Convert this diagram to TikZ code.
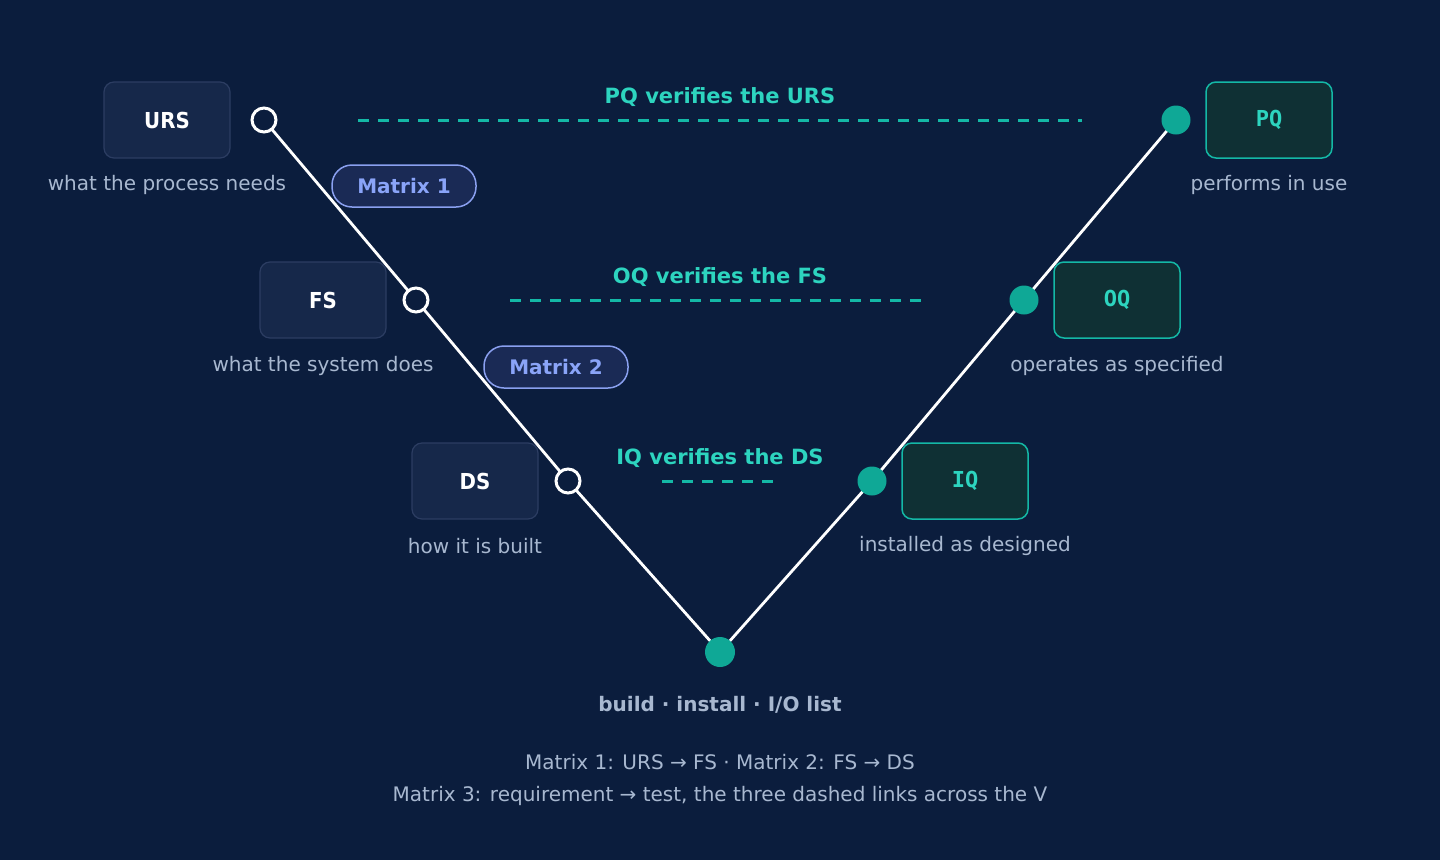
\documentclass[tikz,border=0pt]{standalone}
\usepackage{fontspec}
\setmainfont{DejaVu Sans}
\newfontfamily\condf{DejaVu Sans Condensed}
\newfontfamily\monof{DejaVu Sans Mono}
\begin{document}
\definecolor{bg}{HTML}{0B1D3D}
\definecolor{boxf}{HTML}{16284A}
\definecolor{boxd}{HTML}{2C3D62}
\definecolor{tealf}{HTML}{0F3034}
\definecolor{teald}{HTML}{14B8A6}
\definecolor{tealt}{HTML}{2DD4BF}
\definecolor{dot}{HTML}{0FA896}
\definecolor{pillf}{HTML}{1A2A55}
\definecolor{pilld}{HTML}{8AA0F0}
\definecolor{pillt}{HTML}{8AA4F8}
\definecolor{cap}{HTML}{A8B8D0}
\begin{tikzpicture}[x=1pt,y=-1pt,
 lbox/.style={draw=boxd,fill=boxf,line width=1.2pt,rounded corners=10pt,minimum width=126pt,minimum height=76pt,text=white,font=\condf\bfseries\fontsize{22}{24}\selectfont},
 rbox/.style={draw=teald,fill=tealf,line width=1.5pt,rounded corners=10pt,minimum width=126pt,minimum height=76pt,text=tealt,font=\monof\bfseries\fontsize{22}{24}\selectfont},
 ring/.style={circle,draw=white,fill=bg,line width=3pt,minimum size=24pt,inner sep=0pt},
 tdot/.style={circle,fill=dot,minimum size=30pt,inner sep=0pt},
 capt/.style={text=cap,font=\fontsize{20}{22}\selectfont},
 pill/.style={draw=pilld,fill=pillf,line width=1.5pt,rounded corners=20pt,minimum width=144pt,minimum height=42pt,text=pillt,font=\bfseries\fontsize{20}{22}\selectfont},
 vl/.style={draw=teald,line width=3pt,dash pattern=on 11pt off 9pt},
 vt/.style={text=tealt,font=\bfseries\fontsize{21}{23}\selectfont},
 vline/.style={draw=white,line width=2.8pt}]
\fill[bg] (0,0) rectangle (1440,860);
\useasboundingbox (0,0) rectangle (1440,860);
\node[lbox] (urs) at (167,120) {URS};
\node[lbox] (fs) at (323,300) {FS};
\node[lbox] (ds) at (475,481) {DS};
\node[rbox] (pq) at (1269,120) {PQ};
\node[rbox] (oq) at (1117,300) {OQ};
\node[rbox] (iq) at (965,481) {IQ};
\node[capt] (c1) at (167,185) {what the process needs};
\node[capt] (c2) at (323,366) {what the system does};
\node[capt] (c3) at (475,546) {how it is built};
\node[capt] (c4) at (1269,185) {performs in use};
\node[capt] (c5) at (1117,366) {operates as specified};
\node[capt] (c6) at (965,546) {installed as designed};
\coordinate (r1) at (264,120);
\coordinate (r2) at (416,300);
\coordinate (r3) at (568,481);
\coordinate (bt) at (720,652);
\coordinate (t1) at (1176,120);
\coordinate (t2) at (1024,300);
\coordinate (t3) at (872,481);
\draw[vline] (r1) -- (r2) -- (r3) -- (bt) -- (t3) -- (t2) -- (t1);
\node[ring] (n1) at (r1) {};
\node[ring] (n2) at (r2) {};
\node[ring] (n3) at (r3) {};
\node[tdot] (b) at (bt) {};
\node[tdot,minimum size=29pt] (m1) at (t1) {};
\node[tdot,minimum size=29pt] (m2) at (t2) {};
\node[tdot,minimum size=29pt] (m3) at (t3) {};
\node[pill] (p1) at (404,186) {Matrix 1};
\node[pill] (p2) at (556,367) {Matrix 2};
\coordinate (d1a) at (358,120); \coordinate (d1b) at (1082,120);
\coordinate (d2a) at (510,300); \coordinate (d2b) at (922,300);
\coordinate (d3a) at (662,481); \coordinate (d3b) at (780,481);
\draw[vl] (d1a) -- (d1b);
\draw[vl] (d2a) -- (d2b);
\draw[vl] (d3a) -- (d3b);
\node[vt] (v1) at (720,97) {PQ verifies the URS};
\node[vt] (v2) at (720,277) {OQ verifies the FS};
\node[vt] (v3) at (720,458) {IQ verifies the DS};
\node[text=cap,font=\bfseries\fontsize{20}{22}\selectfont] (bl) at (720,705) {build · install · I/O list};
\node[capt] (n1t) at (720,762) {Matrix 1: URS → FS · Matrix 2: FS → DS};
\node[capt] (n2t) at (720,796) {Matrix 3: requirement → test, the three dashed links across the V};
\end{tikzpicture}
\end{document}
